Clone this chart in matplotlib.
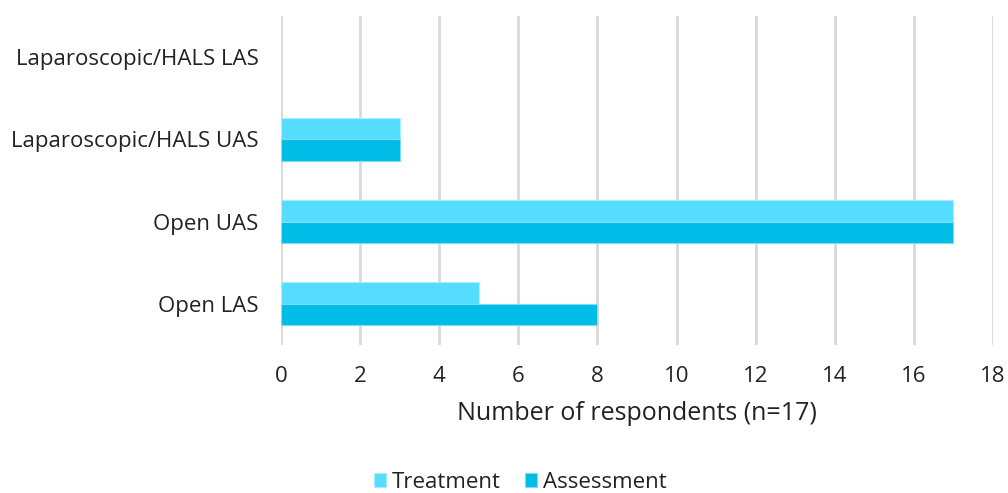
import matplotlib
matplotlib.use("Agg")
import matplotlib.pyplot as plt
import numpy as np

categories = ['Open LAS', 'Open UAS', 'Laparoscopic/HALS UAS', 'Laparoscopic/HALS LAS']
treatment = [5, 17, 3, 0]
assessment = [8, 17, 3, 0]
xticks = [0, 2, 4, 6, 8, 10, 12, 14, 16, 18]

plt.rcParams['font.family'] = ['Open Sans', 'DejaVu Sans']

fig = plt.figure(figsize=(10.08, 4.93), dpi=100)
ax = fig.add_axes([0.2788, 0.3002, 0.7063, 0.6673])

y = np.arange(len(categories))
h = 0.26
ax.barh(y + h / 2, treatment, height=h, color='#55DDFF', edgecolor='#A8EEFF',
        linewidth=[0.8 if v else 0 for v in treatment], label='Treatment', zorder=3)
ax.barh(y - h / 2, assessment, height=h, color='#00BCE6', edgecolor='#7FDDF2',
        linewidth=[0.8 if v else 0 for v in assessment], label='Assessment', zorder=3)

ax.set_xlim(0, 18)
ax.set_ylim(-0.5, 3.5)
ax.set_xticks(xticks)
ax.set_yticks(y)
ax.set_yticklabels(categories)
ax.tick_params(length=0, labelsize=16, colors='#222222')
ax.tick_params(axis='y', pad=16)
ax.tick_params(axis='x', pad=15)
ax.grid(axis='x', color='#D9D9D9', linewidth=2, zorder=0)
for s in ax.spines.values():
    s.set_visible(False)
ax.set_xlabel('Number of respondents (n=17)', fontsize=18, color='#222222', labelpad=10)

fig.legend(loc='lower center', bbox_to_anchor=(0.516, -0.036), ncol=2, frameon=False,
           fontsize=16, handlelength=0.55, handleheight=0.55, handletextpad=0.25,
           columnspacing=1.1, borderpad=0.3, labelcolor='#222222')

fig.savefig('out.png', dpi=100)
